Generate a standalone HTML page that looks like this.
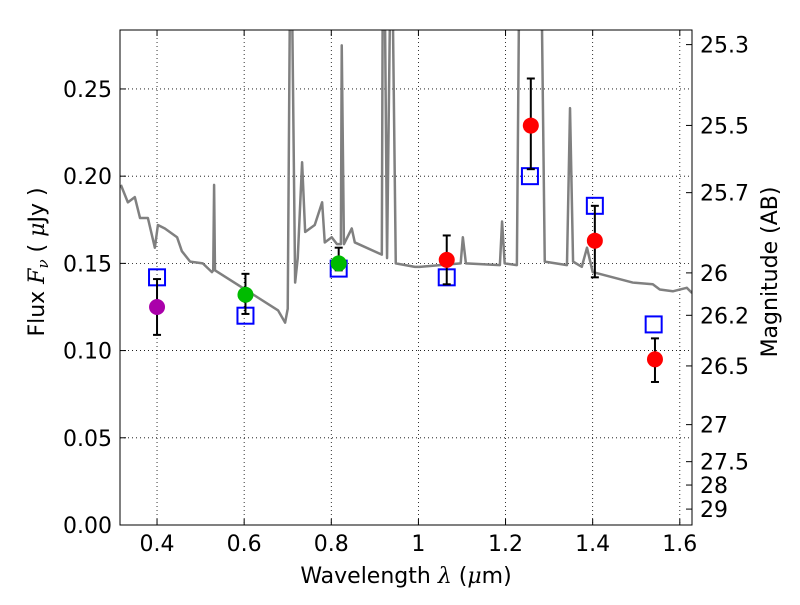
<!DOCTYPE html>
<html><head><meta charset="utf-8"><style>
body{margin:0;background:#fff;}
svg text{font-family:"DejaVu Sans","Liberation Sans",sans-serif;}
</style></head><body>
<svg id="c" width="800" height="600" xmlns="http://www.w3.org/2000/svg"></svg>
<script>
const specWl=[0.317,0.333,0.349,0.361,0.379,0.395,0.402,0.418,0.446,0.457,0.476,0.505,0.526,0.529,0.531,0.533,0.609,0.678,0.694,0.700,0.705,0.710,0.717,0.723,0.733,0.740,0.762,0.779,0.785,0.801,0.813,0.822,0.824,0.829,0.847,0.854,0.916,0.918,0.923,0.928,0.935,0.941,0.948,0.992,1.003,1.097,1.102,1.109,1.187,1.192,1.198,1.226,1.231,1.283,1.290,1.341,1.348,1.355,1.375,1.387,1.400,1.446,1.492,1.538,1.554,1.584,1.616,1.628];
const specFlux=[0.195,0.185,0.188,0.176,0.176,0.159,0.172,0.170,0.165,0.157,0.151,0.150,0.145,0.146,0.195,0.146,0.134,0.123,0.116,0.124,0.30,0.30,0.139,0.153,0.208,0.168,0.172,0.185,0.162,0.165,0.161,0.161,0.275,0.161,0.170,0.162,0.155,0.30,0.30,0.153,0.30,0.30,0.150,0.148,0.148,0.150,0.165,0.150,0.149,0.174,0.150,0.149,0.30,0.30,0.151,0.149,0.239,0.151,0.148,0.159,0.145,0.142,0.139,0.138,0.135,0.134,0.136,0.133];
const obsWl=[0.400,0.603,0.817,1.065,1.258,1.405,1.543];
const obsFlux=[0.125,0.132,0.150,0.152,0.229,0.163,0.095];
const obsLo=[0.109,0.121,0.146,0.138,0.204,0.142,0.082];
const obsHi=[0.141,0.144,0.159,0.166,0.256,0.183,0.107];
const obsColor=["#aa00aa","#00bb00","#00bb00","#ff0000","#ff0000","#ff0000","#ff0000"];
const modWl=[0.400,0.603,0.817,1.065,1.256,1.405,1.540];
const modFlux=[0.142,0.120,0.147,0.142,0.200,0.183,0.115];
const xTicks=[0.4,0.6,0.8,1.0,1.2,1.4,1.6];
const xTickLabels=["0.4","0.6","0.8","1","1.2","1.4","1.6"];
const yTicks=[0,0.05,0.10,0.15,0.20,0.25];
const yTickLabels=["0.00","0.05","0.10","0.15","0.20","0.25"];
const magTicks=[25.3,25.5,25.7,26,26.2,26.5,27,27.5,28,29];

const L=120,R=692,T=30,B=525,X0=0.315,X1=1.628,Y0=0,Y1=0.2838;
const sx=v=>L+(v-X0)/(X1-X0)*(R-L);
const sy=v=>B-(v-Y0)/(Y1-Y0)*(B-T);
const magToFlux=m=>Math.pow(10,-(m-23.9)/2.5);
const svg=document.getElementById('c');
const NS="http://www.w3.org/2000/svg";
function mk(t,a,p){const e=document.createElementNS(NS,t);for(const k in a)e.setAttribute(k,a[k]);(p||svg).appendChild(e);return e;}
const defs=mk('defs',{});const cp=mk('clipPath',{id:'clip'},defs);mk('rect',{x:L,y:T,width:R-L,height:B-T},cp);
xTicks.forEach((v,i)=>{
 const g=mk('line',{x1:sx(v),x2:sx(v),y1:T,y2:B,stroke:'#000','stroke-width':0.8,'stroke-dasharray':'1,3'});
 
 const t=mk('line',{x1:sx(v),x2:sx(v),y1:B,y2:B-6,stroke:'#000'});
 
 mk('line',{x1:sx(v),x2:sx(v),y1:T,y2:T+6,stroke:'#000'});
 const l=mk('text',{x:sx(v),y:B+26,'text-anchor':'middle','font-size':22});l.textContent=xTickLabels[i];
 
});
yTicks.forEach((v,i)=>{
 const g=mk('line',{x1:L,x2:R,y1:sy(v),y2:sy(v),stroke:'#000','stroke-width':0.8,'stroke-dasharray':'1,3'});
 
 const t=mk('line',{x1:L,x2:L+6,y1:sy(v),y2:sy(v),stroke:'#000'});
 
 const l=mk('text',{x:L-8,y:sy(v)+8,'text-anchor':'end','font-size':22});l.textContent=yTickLabels[i];
 
});
magTicks.forEach(m=>{
 const y=sy(magToFlux(m));
 const t=mk('line',{x1:R-6,x2:R,y1:y,y2:y,stroke:'#000'});
 
 const l=mk('text',{x:R+8,y:y+8,'font-size':22});l.textContent=String(m);
 
});
const sp=mk('polyline',{points:specWl.map((w,i)=>sx(w)+','+sy(specFlux[i])).join(' '),fill:'none',stroke:'#808080','stroke-width':2.5,'clip-path':'url(#clip)','stroke-linejoin':'round'});

modWl.forEach((w,i)=>{
 const r=mk('rect',{x:sx(w)-8,y:sy(modFlux[i])-8,width:16,height:16,fill:'none',stroke:'#0000ff','stroke-width':2});
 
});
obsWl.forEach((w,i)=>{
 const x=sx(w);
 const e=mk('line',{x1:x,x2:x,y1:sy(obsLo[i]),y2:sy(obsHi[i]),stroke:'#000','stroke-width':2});
 
 mk('line',{x1:x-4,x2:x+4,y1:sy(obsLo[i]),y2:sy(obsLo[i]),stroke:'#000','stroke-width':2});
 mk('line',{x1:x-4,x2:x+4,y1:sy(obsHi[i]),y2:sy(obsHi[i]),stroke:'#000','stroke-width':2});
 const c=mk('circle',{cx:x,cy:sy(obsFlux[i]),r:8,fill:obsColor[i]});
 
});
const fr=mk('rect',{x:L,y:T,width:R-L,height:B-T,fill:'none',stroke:'#000','stroke-width':1});

</script>
<svg width="800" height="600" style="position:absolute;left:0;top:0" xmlns="http://www.w3.org/2000/svg">
<text x="406" y="583" text-anchor="middle" font-size="22" font-family="DejaVu Sans, Liberation Sans, sans-serif">Wavelength  <tspan font-style="italic" font-family="DejaVu Serif, serif">λ</tspan> (<tspan font-style="italic" font-family="DejaVu Serif, serif">μ</tspan>m)</text>
<text transform="translate(44,262) rotate(-90)" text-anchor="middle" font-size="22" font-family="DejaVu Sans, Liberation Sans, sans-serif">Flux  <tspan font-style="italic" font-family="DejaVu Serif, serif">F</tspan><tspan font-style="italic" font-size="15" dy="4" font-family="DejaVu Serif, serif">ν</tspan><tspan dy="-4">  ( </tspan><tspan font-style="italic" font-family="DejaVu Serif, serif">μ</tspan>Jy )</text>
<text transform="translate(777,272) rotate(-90)" text-anchor="middle" font-size="22" font-family="DejaVu Sans, Liberation Sans, sans-serif">Magnitude (AB)</text>
</svg>
</body></html>
